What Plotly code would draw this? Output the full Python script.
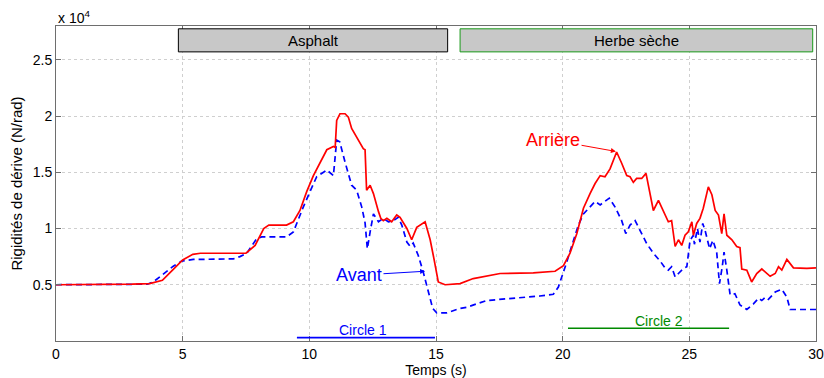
import plotly.graph_objects as go

# Time axis (s) and cornering stiffness (N/rad), rear axle
t_arriere = [0, 2.0, 3.0, 3.7, 4.0, 4.2, 4.6, 5.0, 5.4, 5.7, 7.5, 7.86, 8.2, 8.4, 9.1, 9.37, 9.63,
             9.9, 10.16, 10.42, 10.69, 10.95, 11.02, 11.08, 11.21, 11.41, 11.54, 11.67, 11.87,
             12.13, 12.2, 12.26, 12.4, 12.53, 12.73, 12.82, 12.92, 13.06, 13.25, 13.45, 13.58,
             13.85, 14.04, 14.24, 14.57, 14.77, 14.92, 15.09, 15.36, 15.95, 16.47, 17.53, 18.84,
             19.7, 20.03, 20.29, 20.56, 20.82, 21.08, 21.28, 21.48, 21.67, 21.87, 22.13, 22.33,
             22.53, 22.66, 22.79, 22.92, 23.12, 23.29, 23.58, 23.78, 23.97, 24.17, 24.3, 24.44,
             24.57, 24.7, 24.83, 24.96, 25.1, 25.16, 25.29, 25.42, 25.55, 25.75, 25.89, 26.02,
             26.15, 26.28, 26.37, 26.48, 26.68, 26.87, 27.0, 27.07, 27.27, 27.46, 27.66, 27.86,
             28.19, 28.39, 28.52, 28.65, 28.85, 29.11, 29.64, 30.0]
c_arriere = [5000, 5000, 5050, 5100, 5250, 5400, 6300, 7200, 7700, 7800, 7800, 8500, 10000, 10300,
             10300, 10600, 11600, 13300, 14700, 15800, 17000, 17300, 17200, 19600, 20200, 20200,
             19900, 18900, 18100, 17100, 17000, 13400, 13850, 13100, 11500, 10900, 10700, 10900,
             10600, 11200, 11000, 10000, 9000, 10100, 10600, 9000, 7300, 5250, 5000, 5100, 5550,
             6000, 6050, 6200, 6700, 7800, 9550, 11800, 13100, 14000, 14700, 14600, 15300, 16800,
             15800, 14700, 14600, 14100, 14450, 14450, 14900, 11600, 12500, 11600, 10600, 10700,
             8400, 9000, 8500, 9400, 9700, 10600, 9400, 10450, 10900, 11800, 13700, 13000, 11600,
             11200, 9550, 11300, 9400, 9000, 8400, 8300, 6400, 6300, 5250, 6000, 6400, 5750, 6000,
             6600, 6300, 7250, 6500, 6450, 6500]

# Front axle
t_avant = [0, 3.0, 3.6, 3.84, 4.24, 4.63, 4.96, 5.42, 7.0, 7.26, 7.53, 7.92, 8.12, 9.1, 9.37, 9.5,
           9.76, 10.03, 10.29, 10.69, 10.95, 11.08, 11.2, 11.41, 11.67, 11.87, 12.07, 12.2, 12.29,
           12.4, 12.53, 12.73, 12.92, 13.12, 13.32, 13.51, 13.65, 13.85, 13.98, 14.1, 14.3, 14.5,
           14.7, 14.87, 15.03, 15.42, 15.95, 16.21, 17.0, 18.19, 19.1, 19.63, 19.83, 20.1, 20.36,
           20.62, 20.82, 21.08, 21.28, 21.48, 21.67, 21.84, 22.07, 22.33, 22.49, 22.66, 22.86,
           23.06, 23.32, 23.58, 23.85, 24.04, 24.17, 24.3, 24.44, 24.57, 24.77, 24.9, 25.03,
           25.16, 25.2, 25.32, 25.42, 25.53, 25.62, 25.8, 25.93, 26.08, 26.19, 26.3, 26.37, 26.48,
           26.61, 26.8, 27.0, 27.27, 27.53, 27.73, 27.86, 28.0, 28.12, 28.39, 28.65, 28.85, 28.98,
           29.64, 30.0]
c_avant = [5000, 5000, 5050, 5250, 6000, 6650, 7100, 7250, 7300, 7500, 7800, 9100, 9250, 9250,
           9700, 10450, 11900, 13300, 14600, 15200, 14700, 17850, 17700, 15900, 13850, 13400,
           11900, 10500, 8200, 9700, 11300, 10600, 10900, 10600, 10700, 11000, 10300, 8800, 8400,
           8700, 7600, 6100, 4500, 2900, 2500, 2500, 2900, 3000, 3600, 3800, 4000, 4150, 4800,
           6600, 8500, 10300, 11300, 11900, 12400, 12100, 12400, 12700, 11900, 10700, 9550, 10300,
           10700, 9850, 8650, 7800, 7100, 6500, 6300, 6600, 5700, 6000, 6450, 6600, 8950, 9400,
           8600, 10000, 8800, 10450, 9850, 8200, 8950, 7900, 5100, 6600, 7900, 6300, 4100, 4200,
           3200, 2800, 3300, 3800, 3600, 3900, 3700, 4350, 4600, 3900, 2800, 2800, 2800]

# Surface segments and manoeuvre intervals
surfaces = ["Asphalt", "Herbe sèche"]
surface_t0 = [4.83, 15.95]
surface_t1 = [15.46, 29.87]
circles = ["Circle 1", "Circle 2"]
circle_t0 = [9.51, 20.21]
circle_t1 = [14.96, 26.57]

y_ticks = [5000, 10000, 15000, 20000, 25000]
y_ticklabels = ["0.5", "1", "1.5", "2", "2.5"]
x_ticks = [0, 5, 10, 15, 20, 25, 30]

FONT = "Liberation Sans, Arial, Helvetica, sans-serif"
RED = "#ff0000"
BLUE = "#0000ff"
GREEN = "#008a00"

fig = go.Figure()
fig.add_trace(go.Scatter(x=t_avant, y=c_avant, mode="lines", name="Avant",
                         line=dict(color=BLUE, width=1.7, dash="6px,4px")))
fig.add_trace(go.Scatter(x=t_arriere, y=c_arriere, mode="lines", name="Arrière",
                         line=dict(color=RED, width=1.7)))

# Surface labels: grey boxes along the top
box_edge = ["#000000", "#1a9a1a"]
for name, a, b, edge in zip(surfaces, surface_t0, surface_t1, box_edge):
    fig.add_shape(type="rect", x0=a, x1=b, y0=25700, y1=27750, xref="x", yref="y",
                  fillcolor="#c8c8c8", opacity=1, line=dict(color=edge, width=1),
                  layer="above")
    fig.add_annotation(x=(a + b) / 2, y=26750, text=name, showarrow=False,
                       font=dict(family=FONT, size=15, color="#000000"))

# Manoeuvre intervals along the bottom
circle_colors = [BLUE, GREEN]
circle_y = [300, 1130]
for name, a, b, col, yy in zip(circles, circle_t0, circle_t1, circle_colors, circle_y):
    fig.add_shape(type="line", x0=a, x1=b, y0=yy, y1=yy, xref="x", yref="y",
                  line=dict(color=col, width=1.6))
fig.add_annotation(x=12.13, y=950, text="Circle 1", showarrow=False,
                   font=dict(family=FONT, size=14, color=BLUE))
fig.add_annotation(x=23.82, y=1750, text="Circle 2", showarrow=False,
                   font=dict(family=FONT, size=14, color=GREEN))

# Curve labels with arrows
fig.add_annotation(x=22.1, y=16850, ax=19.62, ay=17850, axref="x", ayref="y",
                   text="Arrière", showarrow=True, arrowhead=2, arrowsize=1,
                   arrowwidth=1, arrowcolor=RED, standoff=0,
                   font=dict(family=FONT, size=18, color=RED))
fig.add_annotation(x=14.57, y=6200, ax=11.96, ay=5850, axref="x", ayref="y",
                   text="Avant", showarrow=True, arrowhead=2, arrowsize=1,
                   arrowwidth=1, arrowcolor=BLUE, standoff=0,
                   font=dict(family=FONT, size=18, color=BLUE))

# Exponent label for the y axis
fig.add_annotation(x=0, y=1, xref="paper", yref="paper", xanchor="left", yanchor="bottom",
                   text="x 10<sup>4</sup>", showarrow=False, yshift=-2,
                   font=dict(family=FONT, size=14, color="#000000"))

axis_common = dict(showline=True, linecolor="#6e6e6e", linewidth=1, mirror="ticks",
                   ticks="inside", ticklen=5, tickcolor="#6e6e6e", showgrid=True,
                   gridcolor="#cfcfcf", griddash="dot", gridwidth=1, zeroline=False,
                   automargin=False,
                   tickfont=dict(family=FONT, size=14, color="#000000"))

fig.update_xaxes(range=[0, 30], tickvals=x_ticks,
                 title=dict(text="Temps (s)", font=dict(family=FONT, size=14, color="#000000"),
                            standoff=0),
                 **axis_common)
fig.update_yaxes(range=[0, 28000], tickvals=y_ticks, ticktext=y_ticklabels,
                 title=dict(text="Rigidités de dérive (N/rad)",
                            font=dict(family=FONT, size=15, color="#000000"), standoff=6),
                 **axis_common)

fig.update_layout(width=824, height=378, margin=dict(l=56, r=8, t=26, b=37),
                  paper_bgcolor="white", plot_bgcolor="white", showlegend=False,
                  font=dict(family=FONT))

fig.write_html("out.html")
